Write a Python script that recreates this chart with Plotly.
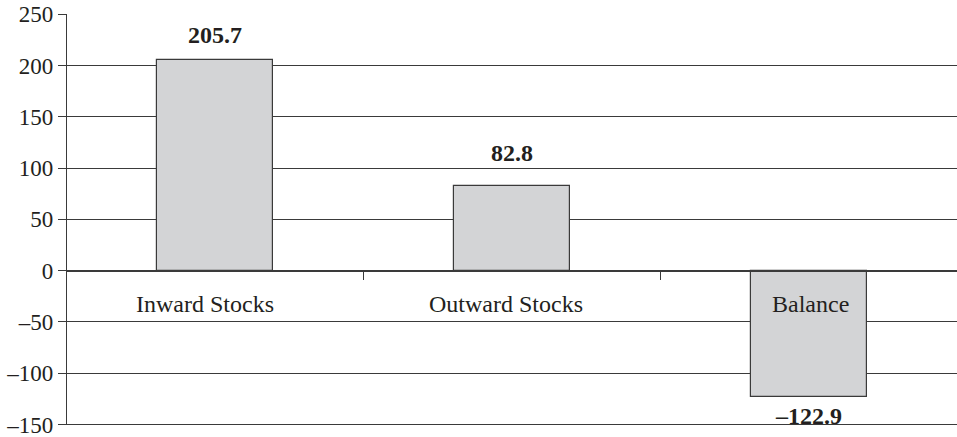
import plotly.graph_objects as go

# Stocks data (bn)
categories = ["Inward Stocks", "Outward Stocks", "Balance"]
values = [205.7, 82.8, -122.9]
value_labels = ["205.7", "82.8", "\u2013122.9"]
y_ticks = [-150, -100, -50, 0, 50, 100, 150, 200, 250]
y_tick_text = ["\u2013150", "\u2013100", "\u201350", "0", "50", "100", "150", "200", "250"]

FONT = "Liberation Serif, Times New Roman, serif"
TEXT = "#231f20"
LINE = "#3a3a3a"
Y_RANGE = [-150.4, 250.2]

x_pos = list(range(len(categories)))

fig = go.Figure()
fig.add_trace(go.Bar(
    x=x_pos,
    y=values,
    width=0.39,
    marker=dict(color="#d3d4d6", line=dict(color="#3a3a3a", width=1.2)),
    hoverinfo="skip",
    showlegend=False,
))

# value labels above positive bars, below negative ones
label_shift = [25, 33, -19]
for x, v, t, s in zip(x_pos, values, value_labels, label_shift):
    fig.add_annotation(
        x=x, y=v, xref="x", yref="y", text=f"<b>{t}</b>",
        showarrow=False, yanchor="middle", yshift=s,
        font=dict(family=FONT, size=24, color=TEXT),
    )

# category names just below the zero line
name_shift = [-10, -6, 2]
for x, c, s in zip(x_pos, categories, name_shift):
    fig.add_annotation(
        x=x, y=0, xref="x", yref="y", text=c,
        showarrow=False, yanchor="middle", yshift=-33, xshift=s,
        font=dict(family=FONT, size=24, color=TEXT),
    )

# bottom gridline (the floating category axis suppresses the one at the range edge)
fig.add_shape(
    type="line", xref="paper", x0=0, x1=1, yref="y", y0=y_ticks[0], y1=y_ticks[0],
    line=dict(color=LINE, width=1.2), layer="below",
)

fig.update_layout(
    width=957, height=437,
    margin=dict(l=67, r=0, t=14, b=12),
    paper_bgcolor="white", plot_bgcolor="white",
    font=dict(family=FONT, size=23, color=TEXT),
    bargap=0,
    xaxis=dict(
        range=[-0.5, 2.5],
        anchor="free", position=(0 - Y_RANGE[0]) / (Y_RANGE[1] - Y_RANGE[0]),
        showline=True, linecolor=LINE, linewidth=1.2,
        ticks="outside", tickvals=[0.5, 1.5], ticklen=8, tickcolor=LINE, tickwidth=1.2,
        showticklabels=False, showgrid=False, zeroline=False,
        fixedrange=True,
    ),
    yaxis=dict(
        range=Y_RANGE,
        tickvals=y_ticks, ticktext=y_tick_text,
        showgrid=True, gridcolor=LINE, gridwidth=1.2,
        showline=True, linecolor=LINE, linewidth=1.2,
        ticks="outside", ticklen=8, tickcolor=LINE, tickwidth=1.2,
        zeroline=False, ticklabeloverflow="allow",
        tickfont=dict(family=FONT, size=23, color=TEXT),
        fixedrange=True,
    ),
)

fig.write_html("out.html")
